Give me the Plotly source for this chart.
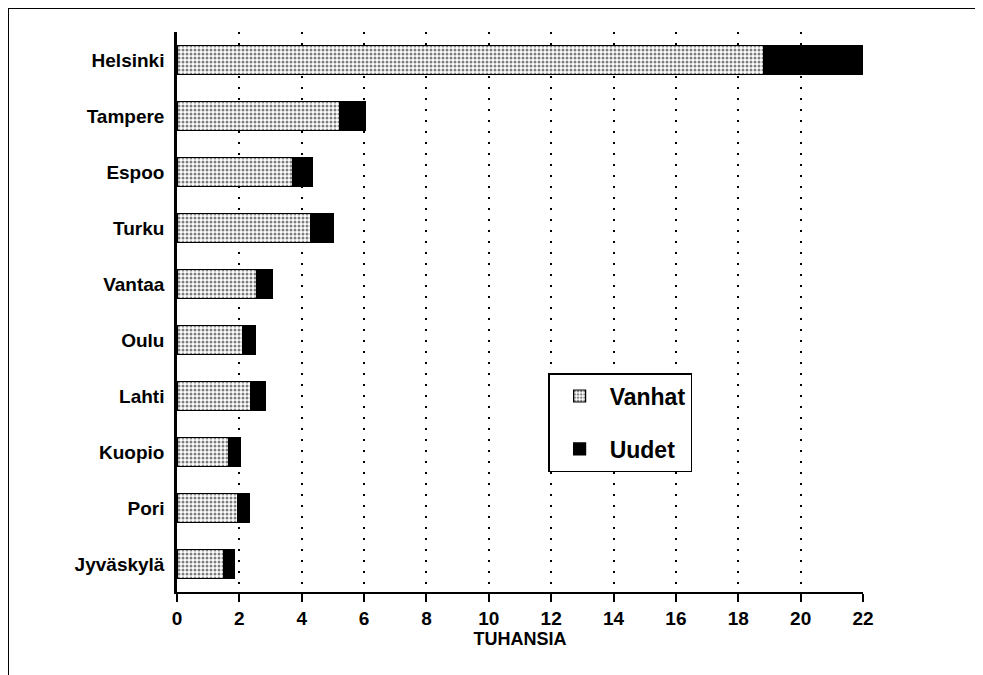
import plotly.graph_objects as go

cities = ["Helsinki", "Tampere", "Espoo", "Turku", "Vantaa", "Oulu", "Lahti", "Kuopio", "Pori", "Jyväskylä"]
vanhat = [18.8, 5.2, 3.7, 4.3, 2.55, 2.1, 2.35, 1.65, 1.95, 1.5]
uudet = [3.2, 0.85, 0.65, 0.7, 0.5, 0.4, 0.5, 0.38, 0.37, 0.33]
xticks = list(range(0, 23, 2))

FONT = "Liberation Sans, Arial, sans-serif"

# page body has an 8px offset; plot area target in page: x 177..863, y 32..592
L, T, W_PLOT, H_PLOT = 169, 24, 686, 560

fig = go.Figure()
fig.add_trace(go.Bar(
    y=cities, x=vanhat, orientation="h", name="<b>Vanhat</b>",
    legendgroup="a",
    width=0.52,
    marker=dict(color="white", line=dict(color="black", width=1.2),
                pattern=dict(shape=".", size=4, solidity=0.45, fgcolor="black", bgcolor="white")),
))
fig.add_trace(go.Bar(
    y=cities, x=uudet, orientation="h", name="<b>Uudet</b>",
    legendgroup="b",
    width=0.52,
    marker=dict(color="black", line=dict(color="black", width=1.2)),
))

fig.update_layout(
    barmode="stack",
    width=983, height=675,
    margin=dict(l=L, r=983 - L - W_PLOT, t=T, b=675 - T - H_PLOT),
    paper_bgcolor="white", plot_bgcolor="white",
    font=dict(family=FONT, size=18, color="black"),
    showlegend=True,
    legend=dict(x=0.541, y=0.391, xanchor="left", yanchor="top",
                bgcolor="white", bordercolor="black", borderwidth=1.5,
                font=dict(size=23, family=FONT), traceorder="grouped",
                tracegroupgap=20, itemwidth=50),
    xaxis=dict(range=[0, 22], tickvals=xticks, ticktext=["<b>%d</b>" % v for v in xticks],
               showgrid=True, gridcolor="black", gridwidth=1.5, griddash="2px,9px",
               showline=True, linecolor="black", linewidth=2,
               ticks="outside", ticklen=8, tickwidth=2, tickcolor="black",
               zeroline=False,
               title=dict(text="<b>TUHANSIA</b>", font=dict(size=18, family=FONT), standoff=0),
               tickfont=dict(size=19)),
    yaxis=dict(categoryorder="array", categoryarray=cities, autorange="reversed",
               tickvals=cities, ticktext=["<b>%s</b>" % c for c in cities],
               showline=True, linecolor="black", linewidth=2.5,
               showgrid=False, ticks="", ticklabelstandoff=6,
               tickfont=dict(size=19)),
    shapes=[
        dict(type="line", xref="paper", yref="paper",
             x0=-L / W_PLOT, x1=(983 - L) / W_PLOT + 0.02,
             y0=1 + T / H_PLOT, y1=1 + T / H_PLOT,
             line=dict(color="black", width=2)),
        dict(type="line", xref="paper", yref="paper",
             x0=-L / W_PLOT, x1=-L / W_PLOT,
             y0=1 + T / H_PLOT, y1=-(675 - T - H_PLOT) / H_PLOT - 0.02,
             line=dict(color="black", width=2)),
    ],
)

fig.write_html("out.html")
